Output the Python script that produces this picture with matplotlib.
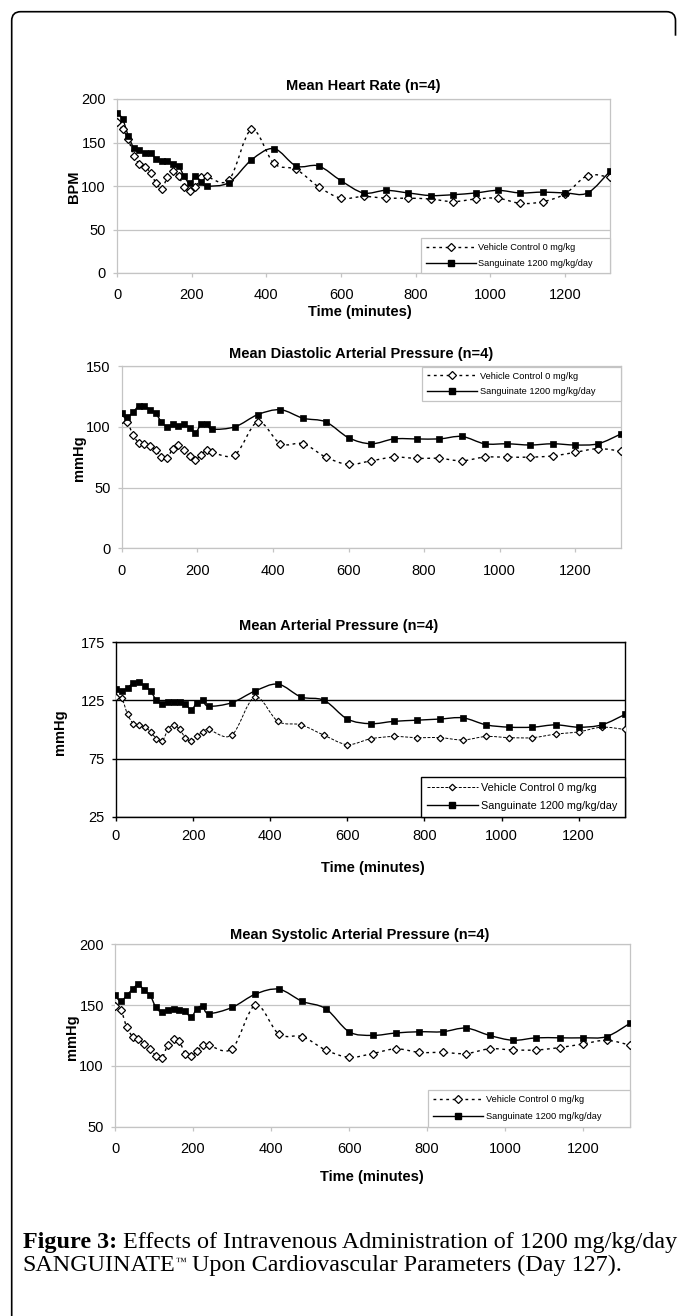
import numpy as np
import matplotlib
matplotlib.use("Agg")
import matplotlib.pyplot as plt
from matplotlib.path import Path
from matplotlib.patches import PathPatch
from matplotlib.lines import Line2D

# ---------------- data ----------------
time_min = [0, 15, 30, 45, 60, 75, 90, 105, 120, 135, 150, 165, 180, 195, 210, 225, 240,
            300, 360, 420, 480, 540, 600, 660, 720, 780, 840, 900, 960, 1020, 1080, 1140,
            1200, 1260, 1320]
x_ticks = [0, 200, 400, 600, 800, 1000, 1200]

hr_vehicle = [174, 165, 154, 135, 125, 122, 115, 103, 97, 110, 117, 111, 99, 94, 99, 110, 111,
              107, 165, 126, 119, 99, 86, 88, 86, 86, 85, 82, 85, 86, 80, 82, 91, 112, 110]
hr_sang = [184, 177, 158, 144, 141, 138, 138, 131, 129, 129, 125, 123, 111, 103, 111, 105, 100,
           104, 130, 143, 123, 123, 106, 92, 95, 92, 89, 90, 92, 95, 92, 93, 92, 92, 117]

dia_vehicle = [106, 104, 93, 87, 86, 84, 81, 75, 74, 82, 85, 81, 76, 73, 77, 81, 79,
               77, 104, 86, 86, 75, 69, 72, 75, 74, 74, 72, 75, 75, 75, 76, 79, 82, 80]
dia_sang = [111, 108, 112, 117, 117, 114, 111, 104, 100, 102, 101, 102, 99, 95, 102, 102, 98,
            100, 110, 114, 107, 104, 91, 86, 90, 90, 90, 92, 86, 86, 85, 86, 85, 86, 94]

map_vehicle = [128, 127, 113, 105, 104, 102, 98, 92, 90, 100, 104, 100, 93, 90, 94, 98, 100,
               95, 128, 107, 104, 95, 87, 92, 94, 93, 93, 91, 94, 93, 93, 96, 98, 102, 100]
map_sang = [135, 133, 136, 140, 141, 137, 133, 125, 122, 124, 124, 124, 122, 117, 123, 125, 120,
            123, 133, 139, 128, 125, 109, 105, 107, 108, 109, 110, 104, 102, 102, 104, 102, 104, 113]

sys_vehicle = [149, 146, 132, 124, 122, 118, 114, 108, 106, 117, 122, 120, 110, 108, 112, 117, 117,
               114, 150, 126, 124, 113, 107, 110, 114, 111, 111, 110, 114, 113, 113, 115, 118, 121, 117]
sys_sang = [158, 153, 158, 163, 167, 162, 158, 148, 144, 146, 147, 146, 145, 140, 147, 149, 143,
            148, 159, 163, 153, 147, 128, 125, 127, 128, 128, 131, 125, 121, 123, 123, 123, 124, 135]

label_vehicle = "Vehicle Control 0 mg/kg"
label_sang = "Sanguinate 1200 mg/kg/day"

# ---------------- figure ----------------
W, H = 683, 1316
fig = plt.figure(figsize=(W / 100, H / 100), dpi=100)
SANS = "Liberation Sans"
SERIF = "Liberation Serif"
plt.rcParams["font.family"] = [SANS, "DejaVu Sans"]


def px_axes(x0, ytop, x1, ybot):
    return fig.add_axes([x0 / W, 1 - ybot / H, (x1 - x0) / W, (ybot - ytop) / H])


def smooth_path(x, y):
    pts = np.column_stack([x, y]).astype(float)
    n = len(pts)
    verts = [pts[0]]
    codes = [Path.MOVETO]
    for i in range(n - 1):
        p0 = pts[i - 1] if i > 0 else pts[i]
        p1 = pts[i]
        p2 = pts[i + 1]
        p3 = pts[i + 2] if i + 2 < n else pts[i + 1]
        c1 = p1 + (p2 - p0) / 6.0
        c2 = p2 - (p3 - p1) / 6.0
        verts += [c1, c2, p2]
        codes += [Path.CURVE4] * 3
    return Path(verts, codes)


def draw_series(ax, x, y, ls, lw, marker, ms, mfc, mew):
    ax.add_patch(PathPatch(smooth_path(x, y), fill=False, edgecolor="black",
                           linestyle=ls, linewidth=lw, zorder=3))
    ax.plot(x, y, ls="none", marker=marker, ms=ms, mfc=mfc, mec="black", mew=mew, zorder=4)


def style_axes(ax, ylim, yticks, color, grid_lw, spine_lw, xpad):
    ax.set_xlim(0, 1320)
    ax.set_ylim(*ylim)
    ax.set_xticks(x_ticks)
    ax.set_yticks(yticks)
    ax.yaxis.grid(True, color=color, lw=grid_lw)
    ax.set_axisbelow(True)
    for s in ax.spines.values():
        s.set_color(color)
        s.set_linewidth(spine_lw)
    ax.tick_params(axis="both", direction="out", length=3, width=spine_lw, color=color,
                   labelsize=10.5, labelcolor="black")
    ax.tick_params(axis="x", pad=xpad)
    ax.tick_params(axis="y", pad=5)


GRAY = "#c4c4c4"
dot_ls = (0, (2.0, 2.6))
fine_ls = (0, (3.0, 1.6))


def make_legend(ax, x0, x1, yanchor, loc, fs, hl, lsp, edge, elw, v_ls, v_lw, v_ms, s_ms, s_lw):
    h1 = Line2D([], [], ls=v_ls, lw=v_lw, color="black", marker="D", ms=v_ms, mfc="white",
                mec="black", mew=0.9)
    h2 = Line2D([], [], ls="-", lw=s_lw, color="black", marker="s", ms=s_ms, mfc="black",
                mec="black")
    leg = ax.legend([h1, h2], [label_vehicle, label_sang], loc=loc,
                    bbox_to_anchor=(x0 / W, 1 - yanchor / H, (x1 - x0) / W, 0),
                    bbox_transform=fig.transFigure, mode="expand", borderaxespad=0,
                    fontsize=fs, handlelength=hl, handletextpad=0.3, labelspacing=lsp,
                    borderpad=0.55, numpoints=1, frameon=True, fancybox=False,
                    edgecolor=edge, framealpha=1)
    leg.get_frame().set_linewidth(elw)
    leg.set_zorder(10)
    return leg


def fig_text(x, y, s, **kw):
    return fig.text(x / W, 1 - y / H, s, ha="center", va="center", **kw)


# ---------- Panel 1: Heart rate ----------
ax1 = px_axes(117, 99, 610, 273)
style_axes(ax1, (0, 200), [0, 50, 100, 150, 200], GRAY, 0.9, 0.9, 8)
draw_series(ax1, time_min, hr_vehicle, dot_ls, 1.0, "D", 3.6, "white", 0.9)
draw_series(ax1, time_min, hr_sang, "-", 1.0, "s", 4.0, "black", 0.5)
make_legend(ax1, 421, 610, 273, "lower left", 6.6, 5.4, 0.75, GRAY, 0.9, dot_ls, 1.0, 3.6, 4.0, 1.0)
fig_text(363, 86, "Mean Heart Rate (n=4)", fontsize=10.5, fontweight="bold")
fig_text(360, 312, "Time (minutes)", fontsize=10.5, fontweight="bold")
fig_text(74, 187, "BPM", fontsize=10.5, fontweight="bold", rotation=90)

# ---------- Panel 2: Diastolic ----------
ax2 = px_axes(121.7, 366, 620.7, 548.3)
style_axes(ax2, (0, 150), [0, 50, 100, 150], GRAY, 0.9, 0.9, 8)
draw_series(ax2, time_min, dia_vehicle, dot_ls, 1.0, "D", 3.6, "white", 0.9)
draw_series(ax2, time_min, dia_sang, "-", 1.0, "s", 4.0, "black", 0.5)
make_legend(ax2, 422, 620.7, 366.5, "upper left", 6.7, 5.4, 0.7, GRAY, 0.9, dot_ls, 1.0, 3.6, 4.0, 1.0)
fig_text(361, 354, "Mean Diastolic Arterial Pressure (n=4)", fontsize=10.5, fontweight="bold")
fig_text(79, 458, "mmHg", fontsize=10.5, fontweight="bold", rotation=90)

# ---------- Panel 3: Mean arterial ----------
ax3 = px_axes(116, 642.3, 625, 816.7)
style_axes(ax3, (25, 175), [25, 75, 125, 175], "black", 1.0, 1.0, 5.5)
draw_series(ax3, time_min, map_vehicle, fine_ls, 0.7, "D", 3.3, "white", 0.9)
draw_series(ax3, time_min, map_sang, "-", 1.0, "s", 5.0, "black", 0.5)
make_legend(ax3, 421, 625, 817, "lower left", 7.8, 4.7, 0.75, "black", 1.0, fine_ls, 0.7, 3.3, 5.0, 1.0)
fig_text(339, 626, "Mean Arterial Pressure (n=4)", fontsize=10.5, fontweight="bold")
fig_text(373, 868, "Time (minutes)", fontsize=10.5, fontweight="bold")
fig_text(60, 732, "mmHg", fontsize=10.5, fontweight="bold", rotation=90)

# ---------- Panel 4: Systolic ----------
ax4 = px_axes(115, 944.3, 630, 1126.5)
style_axes(ax4, (50, 200), [50, 100, 150, 200], GRAY, 0.9, 0.9, 8)
draw_series(ax4, time_min, sys_vehicle, dot_ls, 1.0, "D", 3.6, "white", 0.9)
draw_series(ax4, time_min, sys_sang, "-", 1.0, "s", 4.0, "black", 0.5)
make_legend(ax4, 428, 630, 1126.5, "lower left", 6.7, 5.4, 0.85, GRAY, 0.9, dot_ls, 1.0, 3.6, 4.0, 1.0)
fig_text(360, 935, "Mean Systolic Arterial Pressure (n=4)", fontsize=10.5, fontweight="bold")
fig_text(372, 1177, "Time (minutes)", fontsize=10.5, fontweight="bold")
fig_text(72, 1037, "mmHg", fontsize=10.5, fontweight="bold", rotation=90)

# ---------- outer frame ----------
bx0, by0, bx1, r = 11.7, 11.7, 675.5, 9.0
frame_pts = [(bx0, H + 5), (bx0, by0 + r), (bx0, by0), (bx0 + r, by0),
             (bx1 - r, by0), (bx1, by0), (bx1, by0 + r), (bx1, by0 + 24)]
frame_codes = [Path.MOVETO, Path.LINETO, Path.CURVE3, Path.CURVE3,
               Path.LINETO, Path.CURVE3, Path.CURVE3, Path.LINETO]
frame_path = Path([(x / W, 1 - y / H) for x, y in frame_pts], frame_codes)
fig.add_artist(PathPatch(frame_path, fill=False, edgecolor="black", lw=1.2,
                         transform=fig.transFigure))

# ---------- caption ----------
renderer = fig.canvas.get_renderer()
cap_x0, cap_y1, cap_y2 = 22.7, 1248, 1271
target_w = 652.0
fs = 13.0
bold = fig.text(cap_x0 / W, 1 - cap_y1 / H, "Figure 3:", family=SERIF, fontweight="bold",
                fontsize=fs, ha="left", va="baseline")
rest = fig.text(0, 1 - cap_y1 / H, " Effects of Intravenous Administration of 1200 mg/kg/day",
                family=SERIF, fontsize=fs, ha="left", va="baseline")
l2a = fig.text(cap_x0 / W, 1 - cap_y2 / H, "SANGUINATE", family=SERIF, fontsize=fs,
               ha="left", va="baseline")
l2tm = fig.text(0, 1 - (cap_y2 - 6) / H, "\u2122", family=SERIF, fontsize=fs * 0.45,
                ha="left", va="baseline")
l2b = fig.text(0, 1 - cap_y2 / H, " Upon Cardiovascular Parameters (Day 127).",
               family=SERIF, fontsize=fs, ha="left", va="baseline")


def layout_caption(size):
    for t in (bold, rest, l2a, l2b):
        t.set_fontsize(size)
    l2tm.set_fontsize(size * 0.45)
    b1 = bold.get_window_extent(renderer)
    rest.set_x(b1.x1 / W)
    ba = l2a.get_window_extent(renderer)
    l2tm.set_x(ba.x1 / W)
    bt = l2tm.get_window_extent(renderer)
    l2b.set_x(bt.x1 / W)
    return rest.get_window_extent(renderer).x1 - b1.x0


for _ in range(3):
    width = layout_caption(fs)
    fs = fs * target_w / width
layout_caption(fs)

fig.savefig("out.png", dpi=100, facecolor="white")
